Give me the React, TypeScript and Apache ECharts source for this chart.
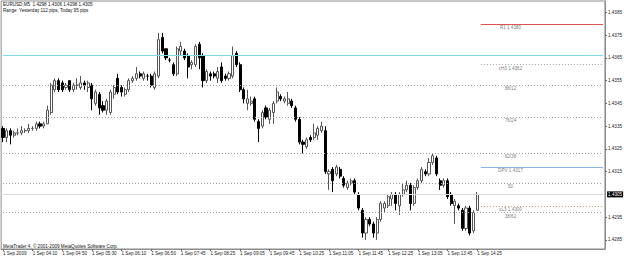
import React, { useEffect, useRef } from "react";
import * as echarts from "echarts";

// ---- data ----
const tickLabels = [
  "1 Sep 2009", "1 Sep 04:10", "1 Sep 04:50", "1 Sep 05:30", "1 Sep 06:10", "1 Sep 06:50",
  "1 Sep 07:45", "1 Sep 08:25", "1 Sep 09:05", "1 Sep 09:45", "1 Sep 10:25", "1 Sep 11:05",
  "1 Sep 11:45", "1 Sep 12:25", "1 Sep 13:05", "1 Sep 13:45", "1 Sep 14:25",
];
const priceTicks = [1.4285, 1.4295, 1.4315, 1.4325, 1.4335, 1.4345, 1.4355, 1.4365, 1.4375, 1.4385];

const openP = [
  1.4334, 1.4330, 1.4333, 1.4331, 1.4332, 1.4332, 1.4333, 1.4333, 1.4334, 1.4334,
  1.4336, 1.4335, 1.4336, 1.4341, 1.4351, 1.4355, 1.4354, 1.4352, 1.4355, 1.4351,
  1.4353, 1.4352, 1.4354, 1.4352, 1.4353, 1.4345, 1.4349, 1.4344, 1.4342, 1.4341,
  1.4349, 1.4356, 1.4352, 1.4349, 1.4351, 1.4355, 1.4356, 1.4358, 1.4356, 1.4357,
  1.4357, 1.4352, 1.4357, 1.4374, 1.4369, 1.4364, 1.4362, 1.4358, 1.4368, 1.4368,
  1.4366, 1.4362, 1.4362, 1.4371, 1.4366, 1.4355, 1.4358, 1.4358, 1.4356, 1.4361,
  1.4357, 1.4356, 1.4357, 1.4367, 1.4362, 1.4351, 1.4345, 1.4345, 1.4347, 1.4337,
  1.4335, 1.4343, 1.4338, 1.4341, 1.4346, 1.4348, 1.4346, 1.4345, 1.4346, 1.4343,
  1.4338, 1.4328, 1.4326, 1.4330, 1.4330, 1.4331, 1.4333, 1.4333, 1.4314, 1.4316,
  1.4314, 1.4316, 1.4312, 1.4308, 1.4310, 1.4311, 1.4305, 1.4298, 1.4288, 1.4294,
  1.4292, 1.4288, 1.4294, 1.4299, 1.4300, 1.4303, 1.4305, 1.4300, 1.4305, 1.4307,
  1.4309, 1.4301, 1.4308, 1.4311, 1.4315, 1.4314, 1.4319, 1.4321, 1.4311, 1.4309,
  1.4311, 1.4305, 1.4300, 1.4300, 1.4298, 1.4290, 1.4299, 1.4289, 1.4298,
];
const highP = [
  1.4335, 1.4334, 1.4334, 1.4333, 1.4334, 1.4335, 1.4334, 1.4336, 1.4335, 1.4337,
  1.4337, 1.4337, 1.4344, 1.4354, 1.4356, 1.4356, 1.4355, 1.4354, 1.4355, 1.4354,
  1.4356, 1.4357, 1.4355, 1.4355, 1.4354, 1.4351, 1.4350, 1.4346, 1.4347, 1.4351,
  1.4353, 1.4358, 1.4353, 1.4352, 1.4356, 1.4357, 1.4361, 1.4359, 1.4359, 1.4358,
  1.4358, 1.4359, 1.4376, 1.4376, 1.4369, 1.4365, 1.4363, 1.4370, 1.4372, 1.4369,
  1.4367, 1.4364, 1.4371, 1.4372, 1.4367, 1.4360, 1.4359, 1.4359, 1.4361, 1.4363,
  1.4358, 1.4359, 1.4370, 1.4368, 1.4363, 1.4352, 1.4351, 1.4348, 1.4348, 1.4338,
  1.4342, 1.4344, 1.4343, 1.4346, 1.4352, 1.4349, 1.4348, 1.4350, 1.4347, 1.4344,
  1.4339, 1.4329, 1.4330, 1.4331, 1.4336, 1.4335, 1.4337, 1.4335, 1.4316, 1.4317,
  1.4318, 1.4317, 1.4313, 1.4311, 1.4312, 1.4312, 1.4306, 1.4299, 1.4295, 1.4295,
  1.4293, 1.4295, 1.4302, 1.4302, 1.4305, 1.4306, 1.4306, 1.4306, 1.4310, 1.4311,
  1.4310, 1.4309, 1.4312, 1.4317, 1.4316, 1.4321, 1.4323, 1.4322, 1.4312, 1.4312,
  1.4312, 1.4306, 1.4303, 1.4301, 1.4299, 1.4300, 1.4300, 1.4298, 1.4306,
];
const lowP = [
  1.4328, 1.4328, 1.4327, 1.4330, 1.4331, 1.4331, 1.4332, 1.4332, 1.4333, 1.4333,
  1.4334, 1.4334, 1.4336, 1.4340, 1.4350, 1.4350, 1.4350, 1.4351, 1.4350, 1.4350,
  1.4351, 1.4351, 1.4351, 1.4350, 1.4342, 1.4344, 1.4340, 1.4341, 1.4340, 1.4340,
  1.4347, 1.4349, 1.4348, 1.4348, 1.4350, 1.4354, 1.4355, 1.4356, 1.4355, 1.4355,
  1.4352, 1.4351, 1.4356, 1.4367, 1.4364, 1.4363, 1.4357, 1.4357, 1.4366, 1.4364,
  1.4356, 1.4360, 1.4361, 1.4360, 1.4352, 1.4354, 1.4355, 1.4356, 1.4354, 1.4354,
  1.4355, 1.4355, 1.4356, 1.4361, 1.4350, 1.4345, 1.4342, 1.4344, 1.4337, 1.4328,
  1.4334, 1.4338, 1.4336, 1.4336, 1.4345, 1.4346, 1.4345, 1.4344, 1.4343, 1.4337,
  1.4327, 1.4323, 1.4325, 1.4328, 1.4329, 1.4329, 1.4332, 1.4314, 1.4307, 1.4306,
  1.4313, 1.4312, 1.4308, 1.4307, 1.4309, 1.4305, 1.4298, 1.4286, 1.4285, 1.4291,
  1.4286, 1.4285, 1.4293, 1.4297, 1.4299, 1.4300, 1.4298, 1.4296, 1.4304, 1.4306,
  1.4298, 1.4300, 1.4307, 1.4310, 1.4313, 1.4313, 1.4318, 1.4313, 1.4307, 1.4308,
  1.4303, 1.4300, 1.4292, 1.4298, 1.4289, 1.4289, 1.4287, 1.4288, 1.4298,
];
const closeP = [
  1.4330, 1.4333, 1.4331, 1.4332, 1.4332, 1.4333, 1.4333, 1.4334, 1.4334, 1.4336,
  1.4335, 1.4336, 1.4342, 1.4353, 1.4355, 1.4351, 1.4351, 1.4353, 1.4351, 1.4353,
  1.4353, 1.4354, 1.4353, 1.4354, 1.4347, 1.4350, 1.4343, 1.4342, 1.4346, 1.4350,
  1.4352, 1.4350, 1.4350, 1.4351, 1.4355, 1.4356, 1.4358, 1.4357, 1.4358, 1.4357,
  1.4353, 1.4358, 1.4373, 1.4368, 1.4365, 1.4364, 1.4358, 1.4369, 1.4370, 1.4365,
  1.4361, 1.4363, 1.4370, 1.4365, 1.4355, 1.4359, 1.4357, 1.4357, 1.4359, 1.4355,
  1.4356, 1.4358, 1.4366, 1.4362, 1.4351, 1.4347, 1.4347, 1.4346, 1.4338, 1.4334,
  1.4341, 1.4339, 1.4342, 1.4345, 1.4350, 1.4347, 1.4347, 1.4347, 1.4344, 1.4338,
  1.4328, 1.4327, 1.4329, 1.4329, 1.4332, 1.4334, 1.4335, 1.4315, 1.4315, 1.4311,
  1.4317, 1.4313, 1.4309, 1.4310, 1.4311, 1.4306, 1.4299, 1.4288, 1.4294, 1.4292,
  1.4288, 1.4294, 1.4301, 1.4301, 1.4304, 1.4305, 1.4301, 1.4305, 1.4307, 1.4309,
  1.4301, 1.4308, 1.4311, 1.4316, 1.4314, 1.4319, 1.4322, 1.4314, 1.4309, 1.4311,
  1.4304, 1.4301, 1.4302, 1.4299, 1.4290, 1.4299, 1.4288, 1.4297, 1.4305,
];

// level lines
const fibNames = ["88/12", "76/24", "62/38", "50", "38/62"];
const fibValues = [1.4353, 1.4339, 1.4323, 1.4310, 1.4297];
const pivotNames = ["R1 1.4380", "cH3 1.4362", "DPV 1.4317", "cL3 1.4300"];
const pivotValues = [1.4380, 1.4362, 1.4317, 1.4300];
const yesterdayHigh = 1.4366;
const bidPrice = 1.4305;

const SLOTS = 163; // bars + right shift space
const FONT = "Liberation Sans, Arial, sans-serif";
const FS = 4.6;

export default function App() {
  const ref = useRef<HTMLDivElement>(null);
  useEffect(() => {
    if (!ref.current) return;
    const chart = echarts.init(ref.current, null, { renderer: "svg" });
    const nBars = openP.length;
    const cats: string[] = [];
    for (let i = 0; i < SLOTS; i++) cats.push(String(i));
    const candles = openP.map((o, i) => [o, closeP[i], lowP[i], highP[i]]);
    const lvlEnd = SLOTS - 1;
    const labelAt = 137;

    const pivotColors = ["#d9534f", "#a0a0a0", "#8fb0e8", "#b89a7a"];
    const pivotDotted = [false, true, false, true];

    const levelSeries = (
      name: string, values: number[], fromIdx: number, color: string, dotted: boolean, label: any = { show: false }
    ) => ({
      type: "line",
      name,
      data: [],
      silent: true,
      z: 1,
      markLine: {
        silent: true,
        symbol: ["none", "none"],
        animation: false,
        lineStyle: { color, type: dotted ? [1, 2] : "solid", width: 1, opacity: 1 },
        label,
        emphasis: { disabled: true },
        data: values.map((v) => [{ coord: [fromIdx, v] }, { coord: [lvlEnd, v] }]),
      },
    });

    const lineSeries: any[] = [
      levelSeries("fib", fibValues, 0, "#a0a0a0", true),
      levelSeries("yhigh", [yesterdayHigh], 0, "#7fd8ea", false),
      levelSeries("bid", [bidPrice], 0, "#dcdcdc", false, {
        show: true, position: "end", formatter: bidPrice.toFixed(4), color: "#fff",
        backgroundColor: "#000", padding: [1, 1, 0, 1], fontSize: FS, fontFamily: FONT, distance: 4,
      }),
      ...pivotValues.map((v, k) => levelSeries("pv" + k, [v], nBars, pivotColors[k], pivotDotted[k])),
    ];

    const labelData = [
      ...fibNames.map((n, k) => ({ value: [labelAt, fibValues[k]], name: n })),
      ...pivotNames.map((n, k) => ({ value: [labelAt, pivotValues[k]], name: n })),
    ];

    chart.setOption({
      animation: false,
      backgroundColor: "#fff",
      grid: { left: 1, right: 18, top: 1, bottom: 10, show: true, borderColor: "#8c8c8c", borderWidth: 1 },
      xAxis: {
        type: "category",
        data: cats,
        boundaryGap: true,
        axisLine: { show: true, lineStyle: { color: "#8c8c8c" } },
        axisTick: {
          show: true, length: 2, alignWithLabel: true,
          interval: (i: number) => i % 8 === 0 && i < nBars,
          lineStyle: { color: "#666" },
        },
        axisLabel: {
          show: true, interval: (i: number) => i % 8 === 0 && i < nBars,
          formatter: (_v: string, i: number) => tickLabels[i / 8] ?? "",
          align: "left", margin: 2, fontSize: FS, fontFamily: FONT, color: "#222",
        },
        splitLine: { show: false },
      },
      yAxis: {
        type: "value", position: "right", min: 1.4281, max: 1.4390, scale: true,
        axisLine: { show: true, lineStyle: { color: "#8c8c8c" } },
        axisTick: { show: true, length: 2, customValues: priceTicks, lineStyle: { color: "#666" } },
        axisLabel: {
          show: true, customValues: priceTicks, formatter: (v: number) => v.toFixed(4),
          margin: 3, fontSize: FS, fontFamily: FONT, color: "#222",
        },
        splitLine: { show: false },
      },
      series: [
        ...lineSeries,
        {
          type: "candlestick",
          data: candles,
          barWidth: 2.6,
          itemStyle: { color: "#ffffff", color0: "#000000", borderColor: "#555555", borderColor0: "#000000", borderWidth: 1 },
          z: 3,
        },
        {
          type: "scatter",
          data: labelData,
          symbolSize: 0,
          silent: true,
          label: {
            show: true, position: "bottom", distance: 1, formatter: (p: any) => p.name,
            fontSize: FS, fontFamily: FONT, color: "#555",
          },
        },
      ],
      graphic: [
        { type: "text", left: 3, top: 2, style: { text: "EURUSD,M5  1.4298 1.4306 1.4298 1.4305", fontSize: FS, fontFamily: FONT, fill: "#111" } },
        { type: "text", left: 3, top: 8, style: { text: "Range: Yesterday 112 pips, Today 95 pips", fontSize: FS, fontFamily: FONT, fill: "#111" } },
        { type: "text", left: 3, top: 244, style: { text: "MetaTrader 4, © 2001-2009 MetaQuotes Software Corp.", fontSize: FS, fontFamily: FONT, fill: "#111" } },
      ],
    });
    return () => chart.dispose();
  }, []);
  return <div ref={ref} style={{ position: "absolute", left: 0, top: 0, width: 625, height: 259, background: "#fff" }} />;
}
